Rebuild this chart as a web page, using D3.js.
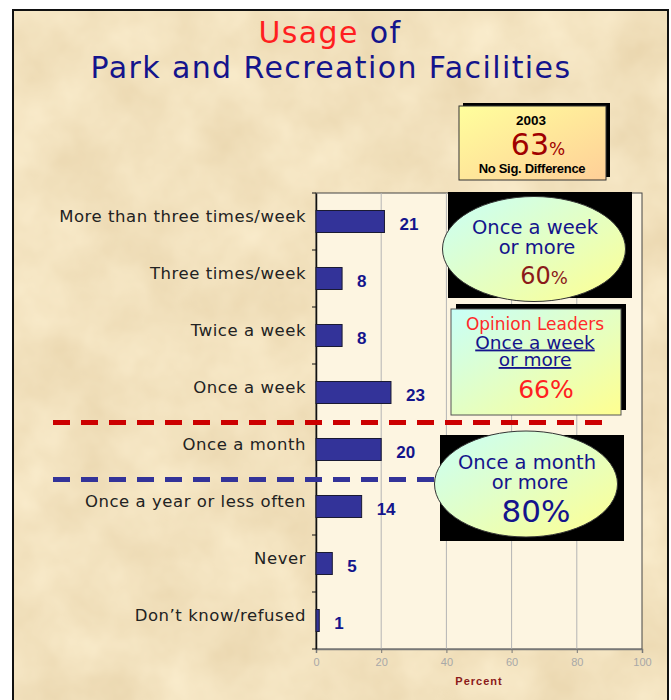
<!DOCTYPE html>
<html>
<head>
<meta charset="utf-8">
<script src="https://cdn.jsdelivr.net/npm/d3@7"></script>
<style>
  html, body { margin: 0; padding: 0; background: #fff; }
  svg { display: block; }
</style>
</head>
<body>
<div id="chart"></div>
<script>
// Chart values
const categories = [
    'More than three times/week',
    'Three times/week',
    'Twice a week',
    'Once a week',
    'Once a month',
    'Once a year or less often',
    'Never',
    "Don\u2019t know/refused"
];
const values = [21, 8, 8, 23, 20, 14, 5, 1];
const xTicks = [0, 20, 40, 60, 80, 100];
const gridTicks = [20, 40, 60, 80];

const titleLine1 = ['Usage', ' of'];
const titleLine2 = 'Park and Recreation Facilities';
const box2003 = ['2003', '63', '%', 'No Sig. Difference'];
const weekCallout = ['Once a week', 'or more', '60', '%'];
const leadersCallout = ['Opinion Leaders', 'Once a week', 'or more', '66%'];
const monthCallout = ['Once a month', 'or more', '80%'];

const WIDTH = 671;
const HEIGHT = 700;
const PLOT = { left: 316, right: 642, top: 193, bottom: 649 };
const NAVY = '#14148c';
const SANS = '"DejaVu Sans", Verdana, sans-serif';
const ARIAL = '"Liberation Sans", Arial, sans-serif';

const svg = d3.select('#chart').append('svg')
    .attr('width', WIDTH)
    .attr('height', HEIGHT);

const defs = svg.append('defs');

// parchment texture
const paper = defs.append('filter')
    .attr('id', 'paper')
    .attr('x', 0).attr('y', 0).attr('width', '100%').attr('height', '100%')
    .attr('color-interpolation-filters', 'sRGB');
paper.append('feTurbulence')
    .attr('type', 'fractalNoise')
    .attr('baseFrequency', 0.015)
    .attr('numOctaves', 4)
    .attr('seed', 7);
paper.append('feColorMatrix')
    .attr('type', 'matrix')
    .attr('values', '0.08 0 0 0 0.91  0.11 0 0 0 0.83  0.15 0 0 0 0.67  0 0 0 0 1');

const addGradient = (id, from, to) => {
    const g = defs.append('linearGradient')
        .attr('id', id)
        .attr('x1', 0).attr('y1', 0).attr('x2', 1).attr('y2', 1);
    g.append('stop').attr('offset', '0%').attr('stop-color', from);
    g.append('stop').attr('offset', '100%').attr('stop-color', to);
};
addGradient('cyanYellow', '#c8fff8', '#ffff90');
addGradient('yellowPeach', '#ffff9c', '#ffcf98');

// frame + background
svg.append('rect')
    .attr('x', 13).attr('y', 10)
    .attr('width', 655).attr('height', 700)
    .attr('filter', 'url(#paper)');
svg.append('rect')
    .attr('x', 13).attr('y', 10)
    .attr('width', 655).attr('height', 700)
    .attr('fill', 'none')
    .attr('stroke', '#111')
    .attr('stroke-width', 2);

// Title
const title1 = svg.append('text')
    .attr('x', 330).attr('y', 43)
    .attr('text-anchor', 'middle')
    .style('font-family', SANS)
    .style('font-size', '30px')
    .style('letter-spacing', '1.4px');
title1.append('tspan').attr('fill', '#ff1f1f').text(titleLine1[0]);
title1.append('tspan').attr('fill', NAVY).text(titleLine1[1]);
svg.append('text')
    .attr('x', 331).attr('y', 78)
    .attr('text-anchor', 'middle')
    .attr('fill', NAVY)
    .style('font-family', SANS)
    .style('font-size', '30px')
    .style('letter-spacing', '1.4px')
    .text(titleLine2);

// Scales
const x = d3.scaleLinear()
    .domain([0, 100])
    .range([PLOT.left, PLOT.right]);
const y = d3.scaleBand()
    .domain(categories)
    .range([PLOT.top, PLOT.bottom])
    .paddingInner(0.614)
    .paddingOuter(0.307);
const step = y.step();

// Plot area
svg.append('rect')
    .attr('x', PLOT.left).attr('y', PLOT.top)
    .attr('width', PLOT.right - PLOT.left)
    .attr('height', PLOT.bottom - PLOT.top)
    .attr('fill', '#fdf5e1')
    .attr('stroke', '#444')
    .attr('stroke-width', 1);

svg.append('g')
    .selectAll('line')
    .data(gridTicks)
    .enter()
    .append('line')
    .attr('x1', d => x(d)).attr('x2', d => x(d))
    .attr('y1', PLOT.top).attr('y2', PLOT.bottom)
    .attr('stroke', '#b4b4b4')
    .attr('stroke-width', 1);

// X axis
const xAxis = svg.append('g')
    .attr('transform', `translate(0, ${PLOT.bottom})`)
    .call(d3.axisBottom(x).tickValues(xTicks).tickSize(4).tickPadding(5));
xAxis.select('.domain').attr('stroke', '#777').attr('stroke-width', 1.5);
xAxis.selectAll('.tick line').attr('stroke', '#777');
xAxis.selectAll('.tick text')
    .attr('fill', '#a8a8a8')
    .style('font-family', ARIAL)
    .style('font-size', '11px');

svg.append('text')
    .attr('x', 479).attr('y', 685)
    .attr('text-anchor', 'middle')
    .attr('fill', '#8b1a1a')
    .style('font-family', ARIAL)
    .style('font-size', '11px')
    .style('font-weight', 'bold')
    .style('letter-spacing', '1px')
    .text('Percent');

// Y axis
const yAxis = svg.append('g')
    .attr('transform', `translate(${PLOT.left}, 0)`)
    .call(d3.axisLeft(y).tickSize(0).tickPadding(10));
yAxis.select('.domain').attr('stroke', '#111').attr('stroke-width', 1.5);
yAxis.selectAll('.tick text')
    .attr('dy', '0.05em')
    .attr('fill', '#222')
    .style('font-family', SANS)
    .style('font-size', '16.5px')
    .style('letter-spacing', '0.55px');
yAxis.selectAll('.boundary')
    .data(d3.range(categories.length + 1))
    .enter()
    .append('line')
    .attr('x1', -4).attr('x2', 0)
    .attr('y1', i => PLOT.top + i * step)
    .attr('y2', i => PLOT.top + i * step)
    .attr('stroke', '#111');

// Bars
const bars = svg.append('g');
bars.selectAll('rect')
    .data(values)
    .enter()
    .append('rect')
    .attr('x', x(0))
    .attr('y', (d, i) => y(categories[i]))
    .attr('width', d => x(d) - x(0))
    .attr('height', y.bandwidth())
    .attr('fill', '#333399')
    .attr('stroke', '#1a1a33')
    .attr('stroke-width', 1);

bars.selectAll('text')
    .data(values)
    .enter()
    .append('text')
    .attr('x', d => x(d) + 15)
    .attr('y', (d, i) => y(categories[i]) + y.bandwidth() / 2 + 8)
    .attr('fill', NAVY)
    .style('font-family', ARIAL)
    .style('font-size', '17px')
    .style('font-weight', 'bold')
    .text(d => d);

// Dashed separators
const sep = (row, color, xEnd) => svg.append('line')
    .attr('x1', 53).attr('x2', xEnd)
    .attr('y1', PLOT.top + row * step + 1.5)
    .attr('y2', PLOT.top + row * step + 1.5)
    .attr('stroke', color)
    .attr('stroke-width', 5)
    .attr('stroke-dasharray', '17 11');
sep(4, '#cc0000', x(90));
sep(5, '#333399', 445);

// 2003 box
svg.append('rect')
    .attr('x', 463).attr('y', 103).attr('width', 147).attr('height', 74)
    .attr('fill', '#000');
svg.append('rect')
    .attr('x', 459).attr('y', 106).attr('width', 147).attr('height', 74)
    .attr('fill', 'url(#yellowPeach)')
    .attr('stroke', '#333').attr('stroke-width', 1);
svg.append('text')
    .attr('x', 531).attr('y', 125)
    .attr('text-anchor', 'middle')
    .style('font-family', ARIAL).style('font-size', '13.5px').style('font-weight', 'bold')
    .text(box2003[0]);
const t63 = svg.append('text')
    .attr('x', 538).attr('y', 155)
    .attr('text-anchor', 'middle')
    .attr('fill', '#a00000')
    .style('font-family', SANS);
t63.append('tspan').style('font-size', '30px').text(box2003[1]);
t63.append('tspan').style('font-size', '17px').text(box2003[2]);
svg.append('text')
    .attr('x', 532).attr('y', 172.5)
    .attr('text-anchor', 'middle')
    .style('font-family', ARIAL).style('font-size', '13px').style('font-weight', 'bold')
    .style('letter-spacing', '-0.3px')
    .text(box2003[3]);

// Once a week callout
svg.append('rect')
    .attr('x', 448).attr('y', 192).attr('width', 184).attr('height', 106)
    .attr('fill', '#000');
svg.append('ellipse')
    .attr('cx', 534).attr('cy', 249).attr('rx', 91.5).attr('ry', 52.5)
    .attr('fill', 'url(#cyanYellow)')
    .attr('stroke', '#333').attr('stroke-width', 1);
svg.append('text')
    .attr('x', 535).attr('y', 233.5)
    .attr('text-anchor', 'middle').attr('fill', NAVY)
    .style('font-family', SANS).style('font-size', '19.5px')
    .text(weekCallout[0]);
svg.append('text')
    .attr('x', 537).attr('y', 253.5)
    .attr('text-anchor', 'middle').attr('fill', NAVY)
    .style('font-family', SANS).style('font-size', '19.5px')
    .text(weekCallout[1]);
const t60 = svg.append('text')
    .attr('x', 544).attr('y', 283.5)
    .attr('text-anchor', 'middle').attr('fill', '#8b1a1a')
    .style('font-family', SANS);
t60.append('tspan').style('font-size', '24px').text(weekCallout[2]);
t60.append('tspan').style('font-size', '18px').text(weekCallout[3]);

// Opinion leaders callout
svg.append('rect')
    .attr('x', 456).attr('y', 304).attr('width', 170).attr('height', 106)
    .attr('fill', '#000');
svg.append('rect')
    .attr('x', 451).attr('y', 309).attr('width', 170).attr('height', 106)
    .attr('fill', 'url(#cyanYellow)')
    .attr('stroke', '#555').attr('stroke-width', 1);
svg.append('text')
    .attr('x', 535).attr('y', 330)
    .attr('text-anchor', 'middle').attr('fill', '#ff2a2a')
    .style('font-family', SANS).style('font-size', '17px')
    .text(leadersCallout[0]);
[leadersCallout[1], leadersCallout[2]].forEach((t, i) => {
    svg.append('text')
        .attr('x', 535).attr('y', 348.5 + i * 17.5)
        .attr('text-anchor', 'middle').attr('fill', NAVY)
        .style('font-family', SANS).style('font-size', '18.5px')
        .style('text-decoration', 'underline')
        .text(t);
});
svg.append('text')
    .attr('x', 546).attr('y', 397.5)
    .attr('text-anchor', 'middle').attr('fill', '#ff2020')
    .style('font-family', SANS).style('font-size', '25px')
    .text(leadersCallout[3]);

// Once a month callout
svg.append('rect')
    .attr('x', 440).attr('y', 435).attr('width', 184).attr('height', 106)
    .attr('fill', '#000');
svg.append('ellipse')
    .attr('cx', 526).attr('cy', 484).attr('rx', 91.5).attr('ry', 53)
    .attr('fill', 'url(#cyanYellow)')
    .attr('stroke', '#333').attr('stroke-width', 1);
svg.append('text')
    .attr('x', 527).attr('y', 468.5)
    .attr('text-anchor', 'middle').attr('fill', NAVY)
    .style('font-family', SANS).style('font-size', '19.5px')
    .text(monthCallout[0]);
svg.append('text')
    .attr('x', 530).attr('y', 489)
    .attr('text-anchor', 'middle').attr('fill', NAVY)
    .style('font-family', SANS).style('font-size', '19.5px')
    .text(monthCallout[1]);
svg.append('text')
    .attr('x', 536).attr('y', 522)
    .attr('text-anchor', 'middle').attr('fill', NAVY)
    .style('font-family', SANS).style('font-size', '31px')
    .text(monthCallout[2]);
</script>
</body>
</html>
